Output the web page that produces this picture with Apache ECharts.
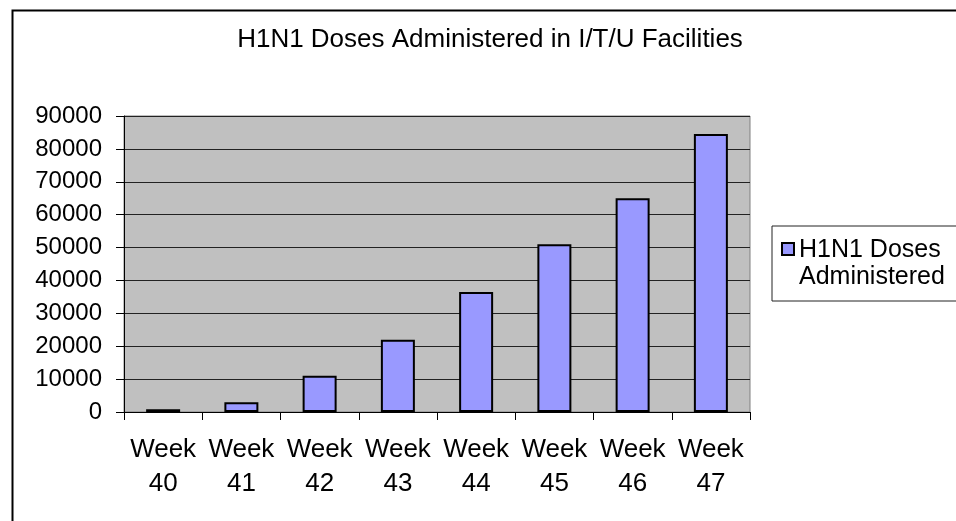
<!DOCTYPE html>
<html>
<head>
<meta charset="utf-8">
<script src="https://cdn.jsdelivr.net/npm/echarts@6/dist/echarts.min.js"></script>
<style>
html,body{margin:0;padding:0;background:#fff;}
#chart{width:956px;height:521px;}
</style>
</head>
<body>
<div id="chart"></div>
<script>
const titleText = 'H1N1 Doses Administered in I/T/U Facilities';
const seriesName = 'H1N1 Doses Administered';
const categories = ['Week\n40','Week\n41','Week\n42','Week\n43','Week\n44','Week\n45','Week\n46','Week\n47'];
const doses = [800, 3000, 11000, 22000, 36500, 51000, 65000, 84500];
const yTicks = { min: 0, max: 90000, interval: 10000 };

const FONT = "'Liberation Sans', Arial, sans-serif";
const chart = echarts.init(document.getElementById('chart'), null, {renderer: 'canvas'});
chart.setOption({
  animation: false,
  backgroundColor: '#ffffff',
  textStyle: { fontFamily: FONT },
  title: {
    text: titleText,
    left: 485,
    textAlign: 'center',
    top: 22,
    textStyle: { fontFamily: FONT, fontSize: 26, fontWeight: 'normal', color: '#000' }
  },
  graphic: [
    { type: 'rect', left: 10, top: 8, shape: { x: 0, y: 0, width: 1000, height: 600 },
      style: { fill: 'none', stroke: '#000', lineWidth: 2 }, silent: true, z: -10 }
  ],
  legend: {
    left: 772,
    top: 226,
    orient: 'vertical',
    padding: [11, 40, 10, 9],
    borderColor: '#222',
    borderWidth: 1,
    backgroundColor: '#fff',
    itemWidth: 12,
    itemHeight: 52,
    icon: 'path://M0,0L0,0ZM0,5L12,5L12,17L0,17ZM0,52L0,52Z',
    formatter: function(){ return 'H1N1 Doses\nAdministered'; },
    textStyle: { fontFamily: FONT, fontSize: 25, color: '#000', lineHeight: 27 },
    data: [seriesName]
  },
  grid: {
    left: 124, right: 206, top: 116, bottom: 109,
    show: true, backgroundColor: '#c0c0c0', borderColor: '#808080', borderWidth: 1,
    containLabel: false
  },
  xAxis: {
    type: 'category',
    data: categories,
    boundaryGap: true,
    axisLine: { show: true, lineStyle: { color: '#000', width: 1 } },
    axisTick: { show: true, length: 8, alignWithLabel: false, lineStyle: { color: '#000' } },
    axisLabel: { fontFamily: FONT, fontSize: 26, color: '#000', lineHeight: 34, margin: 21, interval: 0 },
    splitLine: { show: false }
  },
  yAxis: {
    type: 'value',
    min: yTicks.min, max: yTicks.max, interval: yTicks.interval,
    axisLine: { show: true, lineStyle: { color: '#000', width: 1 } },
    axisTick: { show: true, length: 8, lineStyle: { color: '#000' } },
    axisLabel: { fontFamily: FONT, fontSize: 24, color: '#000', margin: 22, formatter: function(v){ return String(v); } },
    splitLine: { show: true, lineStyle: { color: '#222', width: 1 } }
  },
  series: [{
    name: seriesName,
    type: 'bar',
    data: doses,
    barWidth: 34,
    itemStyle: { color: '#9999ff', borderColor: '#000', borderWidth: 2 }
  }]
});
</script>
</body>
</html>
